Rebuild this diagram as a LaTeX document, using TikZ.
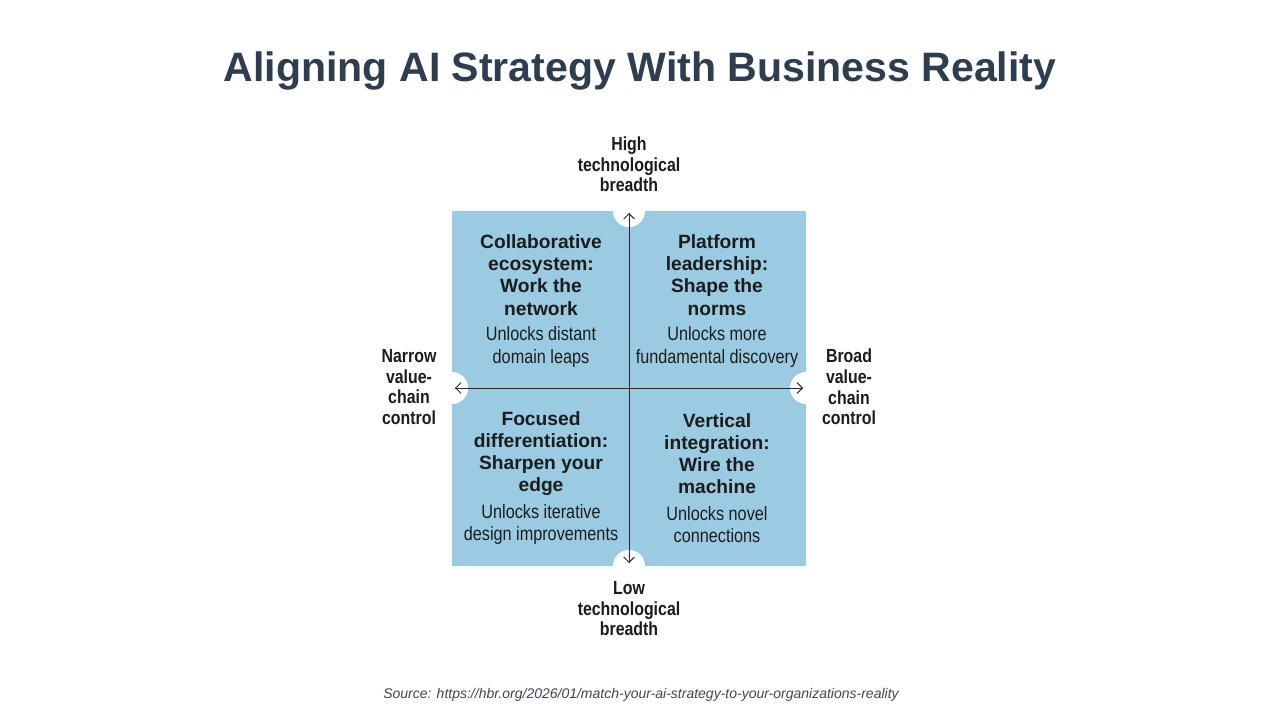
\documentclass[tikz,border=0pt]{standalone}
\usepackage{fontspec}
\setmainfont{Liberation Sans}
\newfontfamily\cond[FakeStretch=0.84]{Liberation Sans}
\usetikzlibrary{arrows.meta}
\definecolor{quadblue}{HTML}{9ACBE2}
\definecolor{titlecol}{HTML}{2E3D4F}
\definecolor{inkcol}{HTML}{1C1C1C}
\definecolor{linecol}{HTML}{2A2A2A}
\definecolor{srccol}{HTML}{404654}
\begin{document}
\begin{tikzpicture}[x=0.75pt,y=-0.75pt,
  qtitle/.style={align=center,inner sep=0pt,text=inkcol,font=\fontsize{14.4}{16.6}\selectfont\bfseries},
  qsub/.style={align=center,inner sep=0pt,text=inkcol,font=\cond\fontsize{14.5}{16.6}\selectfont},
  axislab/.style={align=center,inner sep=0pt,text=inkcol,font=\cond\bfseries\fontsize{14.2}{15.4}\selectfont},
  axisarrow/.style={draw=linecol,line width=0.75pt,-{Straight Barb[length=4pt,width=8pt]}}]
\useasboundingbox[fill=white] (0,0) rectangle (1280,720);
% title
\node[anchor=base,inner sep=0pt,text=titlecol,font=\fontsize{30.8}{36}\selectfont\bfseries] (title) at (640,82) {Aligning AI Strategy With Business Reality};
% matrix
\fill[quadblue] (452,211) rectangle (806,566);
\fill[white] (629,211) circle (16);
\fill[white] (629,566) circle (16);
\fill[white] (452,388) circle (16);
\fill[white] (806,388) circle (16);
\coordinate (top) at (629,213);
\coordinate (bot) at (629,563);
\coordinate (lft) at (455,388);
\coordinate (rgt) at (803,388);
\draw[axisarrow] (bot) -- (top);
\draw[axisarrow] (top) -- (bot);
\draw[axisarrow] (rgt) -- (lft);
\draw[axisarrow] (lft) -- (rgt);
% quadrant texts
\node[qtitle] (q1t) at (541,275) {Collaborative\\ecosystem:\\Work the\\network};
\node[qsub] (q1s) at (541,347) {Unlocks distant\\domain leaps};
\node[qtitle] (q2t) at (717,275) {Platform\\leadership:\\Shape the\\norms};
\node[qsub] (q2s) at (717,347) {Unlocks more\\fundamental discovery};
\node[qtitle] (q3t) at (541,453.5) {Focused\\differentiation:\\Sharpen your\\edge};
\node[qsub] (q3s) at (541,524.5) {Unlocks iterative\\design improvements};
\node[qtitle] (q4t) at (717,453.5) {Vertical\\integration:\\Wire the\\machine};
\node[qsub] (q4s) at (717,524.5) {Unlocks novel\\connections};
% axis labels
\node[axislab] (hi) at (629,164.5) {High\\technological\\breadth};
\node[axislab] (lo) at (629,609) {Low\\technological\\breadth};
\node[axislab] (nar) at (409,387) {Narrow\\value-\\chain\\control};
\node[axislab] (brd) at (849,387) {Broad\\value-\\chain\\control};
% source
\node[anchor=base,inner sep=0pt,text=srccol,font=\fontsize{10.5}{12}\selectfont\itshape] (src) at (641,698) {Source: https://hbr.org/2026/01/match-your-ai-strategy-to-your-organizations-reality};
\end{tikzpicture}
\end{document}
